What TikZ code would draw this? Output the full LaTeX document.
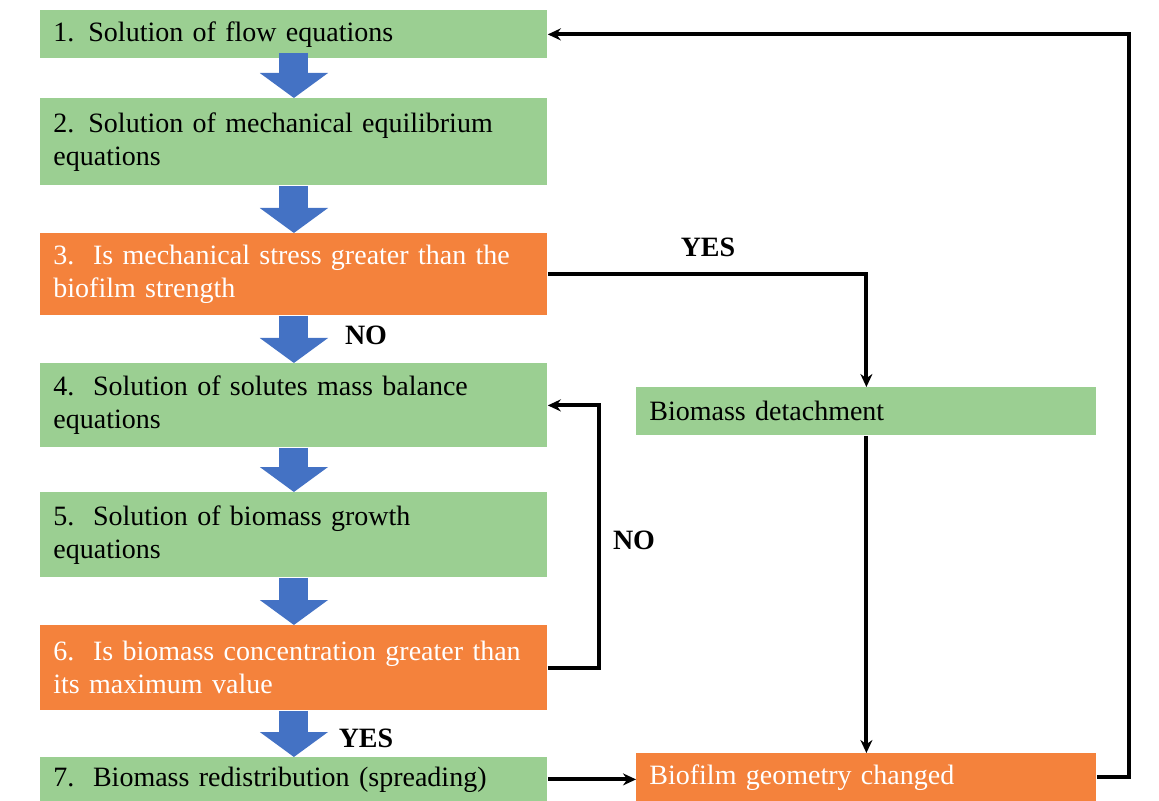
\documentclass[tikz,border=0pt]{standalone}
\usepackage{fontspec}
\setmainfont{Liberation Serif}
\newfontfamily\timesfont{Liberation Serif}
\usetikzlibrary{arrows.meta}

\definecolor{boxgreen}{HTML}{9BCF92}
\definecolor{boxorange}{HTML}{F4823C}
\definecolor{arrowblue}{HTML}{4472C4}

\tikzset{
  stepbox/.style={fill=boxgreen, anchor=north west, minimum width=253.5pt,
    text width=240.5pt, inner xsep=6.5pt, inner ysep=0pt, align=left,
    font=\timesfont\fontsize{14}{16.5}\selectfont},
  askbox/.style={stepbox, fill=boxorange, text=white},
  sidebox/.style={stepbox, minimum width=230pt, text width=217pt},
  bigarrow/.style={arrowblue, line width=14.5pt, -{Triangle[width=33.5pt,length=12.5pt]}},
  flow/.style={line width=2pt, -{Stealth[length=6.5pt,width=6pt]}},
  answer/.style={font=\timesfont\bfseries\fontsize{14}{16.5}\selectfont}
}

\begin{document}
\begin{tikzpicture}[x=0.5pt,y=-0.5pt]

\useasboundingbox (0,0) rectangle (1159,801);

% main sequence
\node[stepbox, minimum height=24pt] (s1) at (40,10) {1. Solution of flow equations};
\node[stepbox, minimum height=43.5pt] (s2) at (40,98) {2. Solution of mechanical equilibrium\\equations};
\node[askbox, minimum height=41pt] (s3) at (40,233) {3.\ \ Is mechanical stress greater than the\\biofilm strength};
\node[stepbox, minimum height=42pt] (s4) at (40,363) {4.\ \ Solution of solutes mass balance\\equations};
\node[stepbox, minimum height=42.5pt] (s5) at (40,492) {5.\ \ Solution of biomass growth\\equations};
\node[askbox, minimum height=42.5pt] (s6) at (40,625) {6.\ \ Is biomass concentration greater than\\its maximum value};
\node[stepbox, minimum height=22pt] (s7) at (40,757) {7.\ \ Biomass redistribution (spreading)};

% side branch
\node[sidebox, minimum height=24pt] (det) at (636,387) {Biomass detachment};
\node[sidebox, fill=boxorange, text=white, minimum height=24pt] (geo) at (636,753) {Biofilm geometry changed};

% blue arrows
\draw[bigarrow, shorten <=-3pt] (s1.south) -- (s2.north);
\draw[bigarrow] (s2.south) -- (s3.north);
\draw[bigarrow] (s3.south) -- (s4.north);
\draw[bigarrow] (s4.south) -- (s5.north);
\draw[bigarrow] (s5.south) -- (s6.north);
\draw[bigarrow] (s6.south) -- (s7.north);

% black connectors
\draw[flow] (s3.east) -| (det.north);
\draw[flow] (det.south) -- (geo.north);
\draw[flow] (s7.east) -- (s7.east -| geo.west);
\draw[flow] (s6.east) -- ++(51,0) |- (s4.east);
\draw[flow] (geo.east) -- ++(32,0) |- (s1.east);

% labels
\node[answer] (yes1) at (708,247) {YES};
\node[answer] (no1) at (366,335) {NO};
\node[answer] (no2) at (634,540) {NO};
\node[answer] (yes2) at (366,738) {YES};

\end{tikzpicture}
\end{document}
